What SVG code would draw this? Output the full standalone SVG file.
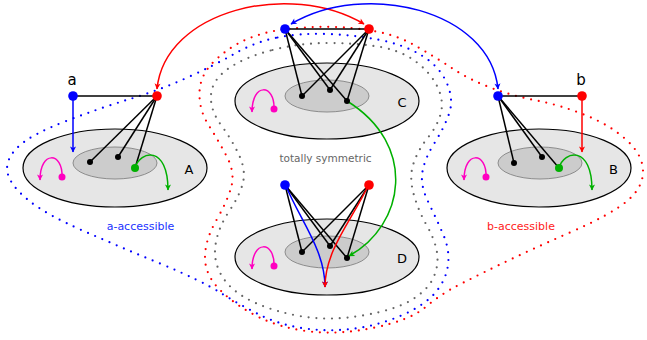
<svg xmlns="http://www.w3.org/2000/svg" width="647" height="340" viewBox="0 0 647 340">
<style>
.outer{fill:#e6e6e6;stroke:#000;stroke-width:1.2}
.inner{fill:#cccccc;stroke:#8c8c8c;stroke-width:1}
.ln{stroke:#000;stroke-width:1.5;fill:none}
.dot{fill:#000}
.bn{fill:#0000ff}
.rn{fill:#ff0000}
.gn{fill:#00b000}
.mn{fill:#ff00c0}
.bc{stroke:#0000ff;stroke-width:1.5;fill:none}
.rc{stroke:#ff0000;stroke-width:1.5;fill:none}
.gc{stroke:#00b000;stroke-width:1.5;fill:none}
.mc{stroke:#ff00c0;stroke-width:1.5;fill:none}
.dt{fill:none;stroke-width:2.2;stroke-linecap:round;stroke-dasharray:0 7.8}
.lbl{font-family:"DejaVu Sans",sans-serif;font-size:13px;fill:#000;text-anchor:middle}
.nm{font-family:"DejaVu Sans",sans-serif;font-size:15px;fill:#000;text-anchor:middle}
.reg{font-family:"DejaVu Sans",sans-serif;font-size:11px;text-anchor:middle}
</style>
<defs>
<marker id="ab" viewBox="-7 -4 8 8" refX="0" refY="0" markerWidth="8" markerHeight="8" markerUnits="userSpaceOnUse" orient="auto-start-reverse"><path d="M0.5,0 L-5.5,-3 L-4,0 L-5.5,3 Z" fill="#0000ff"/></marker>
<marker id="ar" viewBox="-7 -4 8 8" refX="0" refY="0" markerWidth="8" markerHeight="8" markerUnits="userSpaceOnUse" orient="auto-start-reverse"><path d="M0.5,0 L-5.5,-3 L-4,0 L-5.5,3 Z" fill="#ff0000"/></marker>
<marker id="ag" viewBox="-7 -4 8 8" refX="0" refY="0" markerWidth="8" markerHeight="8" markerUnits="userSpaceOnUse" orient="auto-start-reverse"><path d="M0.5,0 L-5.5,-3 L-4,0 L-5.5,3 Z" fill="#00b000"/></marker>
<marker id="am" viewBox="-7 -4 8 8" refX="0" refY="0" markerWidth="8" markerHeight="8" markerUnits="userSpaceOnUse" orient="auto-start-reverse"><path d="M0.5,0 L-5.5,-3 L-4,0 L-5.5,3 Z" fill="#ff00c0"/></marker>
</defs>

<g id="regions">
<path class="dt" stroke="#666666" d="M272.5,50 Q300,43 327.5,43 Q355,43 377.5,46.5 Q400,50 415,61 Q430,72 437,86 Q444,100 441,112.5 Q438,125 428,137.5 Q418,150 413.5,163.5 Q409,177 413.5,193.5 Q418,210 426.5,225 Q435,240 437,252.5 Q439,265 433.5,277.5 Q428,290 411.5,300 Q395,310 362.5,315.5 Q330,321 302.5,316.5 Q275,312 253.5,302 Q232,292 222.5,277 Q213,262 215.5,245 Q218,228 229,211.5 Q240,195 243,182.5 Q246,170 239,155 Q232,140 221,125 Q210,110 211,95 Q212,80 228.5,68.5 Q245,57 272.5,50 Z"/>
<path class="dt" stroke="#0000ff" d="M277.5,37.5 Q300,33 327.5,34 Q355,35 380,40 Q405,45 422.5,56 Q440,67 447,83.5 Q454,100 449,114 Q444,128 434.5,143 Q425,158 422.5,171.5 Q420,185 428,201.5 Q436,218 443,234 Q450,250 448,265 Q446,280 435.5,292.5 Q425,305 402.5,315 Q380,325 355,328.5 Q330,332 305,328.5 Q280,325 260,315 Q240,305 220,292.5 Q200,280 160,263.5 Q120,247 82.5,230.5 Q45,214 27.5,199.5 Q10,185 7.5,172.5 Q5,160 17.5,147.5 Q30,135 65,121.5 Q100,108 130,99 Q160,90 187.5,77.5 Q215,65 235,53.5 Q255,42 277.5,37.5 Z"/>
<path class="dt" stroke="#ff0000" d="M274,31 Q290,28 315,27 Q340,26 367.5,30 Q395,34 415,45.5 Q435,57 452.5,68.5 Q470,80 491.5,88 Q513,96 536.5,100.5 Q560,105 585,115 Q610,125 626.5,140 Q643,155 643,171.5 Q643,188 626.5,201.5 Q610,215 570,232.5 Q530,250 500,264.5 Q470,279 455,287 Q440,295 425,307.5 Q410,320 375,327.5 Q340,335 310,331.5 Q280,328 257.5,316.5 Q235,305 220,290 Q205,275 205,257.5 Q205,240 216.5,220 Q228,200 231.5,186 Q235,172 226.5,156 Q218,140 208.5,125 Q199,110 199.5,92.5 Q200,75 214,61.5 Q228,48 243,41 Q258,34 274,31 Z"/>
<text class="reg" x="140.5" y="230" fill="#2233ff">a-accessible</text>
<text class="reg" x="521" y="230" fill="#ff2222">b-accessible</text>
<text class="reg" x="325.5" y="162" fill="#666666" style="font-size:10.5px">totally symmetric</text>
</g>

<g id="nodeA">
<ellipse class="outer" cx="115" cy="168" rx="92" ry="39"/>
<ellipse class="inner" cx="115" cy="163" rx="42" ry="16"/>
<text class="lbl" x="189" y="174">A</text>
</g>
<g id="nodeB">
<ellipse class="outer" cx="539" cy="168" rx="92" ry="39"/>
<ellipse class="inner" cx="540" cy="163" rx="42" ry="16"/>
<text class="lbl" x="613.5" y="174">B</text>
</g>
<g id="nodeC">
<ellipse class="outer" cx="327" cy="101" rx="92" ry="38"/>
<ellipse class="inner" cx="327" cy="96" rx="42" ry="16"/>
<text class="lbl" x="402" y="107">C</text>
</g>
<g id="nodeD">
<ellipse class="outer" cx="327" cy="257" rx="92" ry="38"/>
<ellipse class="inner" cx="327" cy="252" rx="42" ry="16"/>
<text class="lbl" x="402" y="263">D</text>
</g>

<g id="connectors">
<!-- A -->
<line class="ln" x1="73" y1="96" x2="157" y2="96"/>
<line class="ln" x1="157" y1="96" x2="90" y2="162"/>
<line class="ln" x1="157" y1="96" x2="118" y2="157"/>
<line class="ln" x1="157" y1="96" x2="135" y2="168"/>
<path class="bc" d="M73,96 L73,152" marker-end="url(#ab)"/>
<path class="gc" d="M135,168 C140,150 168,145 168,190" marker-end="url(#ag)"/>
<path class="mc" d="M62,177 C63,152 40,150 40,180" marker-end="url(#am)"/>
<!-- B -->
<line class="ln" x1="498" y1="96" x2="582" y2="96"/>
<line class="ln" x1="498" y1="96" x2="514" y2="163"/>
<line class="ln" x1="498" y1="96" x2="542" y2="157"/>
<line class="ln" x1="498" y1="96" x2="559" y2="168"/>
<path class="rc" d="M582,96 L582,152" marker-end="url(#ar)"/>
<path class="gc" d="M559,168 C564,150 592,145 592,190" marker-end="url(#ag)"/>
<path class="mc" d="M486,177 C487,152 464,150 464,180" marker-end="url(#am)"/>
<!-- C -->
<line class="ln" x1="285" y1="29" x2="369" y2="29"/>
<line class="ln" x1="285" y1="29" x2="302" y2="96"/>
<line class="ln" x1="285" y1="29" x2="330" y2="90"/>
<line class="ln" x1="285" y1="29" x2="347" y2="101"/>
<line class="ln" x1="369" y1="29" x2="302" y2="96"/>
<line class="ln" x1="369" y1="29" x2="330" y2="90"/>
<line class="ln" x1="369" y1="29" x2="347" y2="101"/>
<path class="mc" d="M274,109 C275,84 252,82 252,112" marker-end="url(#am)"/>
<!-- D -->
<line class="ln" x1="285" y1="185" x2="302" y2="252"/>
<line class="ln" x1="285" y1="185" x2="330" y2="246"/>
<line class="ln" x1="285" y1="185" x2="347" y2="258"/>
<line class="ln" x1="369" y1="185" x2="302" y2="252"/>
<line class="ln" x1="369" y1="185" x2="330" y2="246"/>
<line class="ln" x1="369" y1="185" x2="347" y2="258"/>
<path class="mc" d="M274,266 C275,241 252,239 252,269" marker-end="url(#am)"/>
<path class="bc" d="M286,186 C300,220 325,250 325,287" marker-end="url(#ab)"/>
<path class="rc" d="M368,186 C352,220 325,250 325,287" marker-end="url(#ar)"/>
<path class="gc" d="M347,101 C418,145 405,225 349,256" marker-end="url(#ag)"/>
<!-- top arcs -->
<path class="rc" d="M157,89 C165,10 290,-20 364,24" marker-start="url(#ar)" marker-end="url(#ar)"/>
<path class="bc" d="M498,89 C490,10 365,-20 291,24" marker-start="url(#ab)" marker-end="url(#ab)"/>
</g>

<g id="points">
<circle class="dot" cx="90" cy="162" r="3"/>
<circle class="dot" cx="118" cy="157" r="3"/>
<circle class="gn" cx="135" cy="168" r="4"/>
<circle class="mn" cx="62" cy="177" r="3.5"/>
<circle class="bn" cx="73" cy="96" r="4.8"/>
<circle class="rn" cx="157" cy="96" r="4.8"/>
<text class="nm" x="72" y="85">a</text>

<circle class="dot" cx="514" cy="163" r="3"/>
<circle class="dot" cx="542" cy="157" r="3"/>
<circle class="gn" cx="559" cy="168" r="4"/>
<circle class="mn" cx="486" cy="177" r="3.5"/>
<circle class="bn" cx="498" cy="96" r="4.8"/>
<circle class="rn" cx="582" cy="96" r="4.8"/>
<text class="nm" x="581" y="85">b</text>

<circle class="dot" cx="302" cy="96" r="3"/>
<circle class="dot" cx="330" cy="90" r="3"/>
<circle class="dot" cx="347" cy="101" r="3"/>
<circle class="mn" cx="274" cy="109" r="3.5"/>
<circle class="bn" cx="285" cy="29" r="4.8"/>
<circle class="rn" cx="369" cy="29" r="4.8"/>

<circle class="dot" cx="302" cy="252" r="3"/>
<circle class="dot" cx="330" cy="246" r="3"/>
<circle class="dot" cx="347" cy="258" r="3"/>
<circle class="mn" cx="274" cy="266" r="3.5"/>
<circle class="bn" cx="285" cy="185" r="4.8"/>
<circle class="rn" cx="369" cy="185" r="4.8"/>
</g>
</svg>
